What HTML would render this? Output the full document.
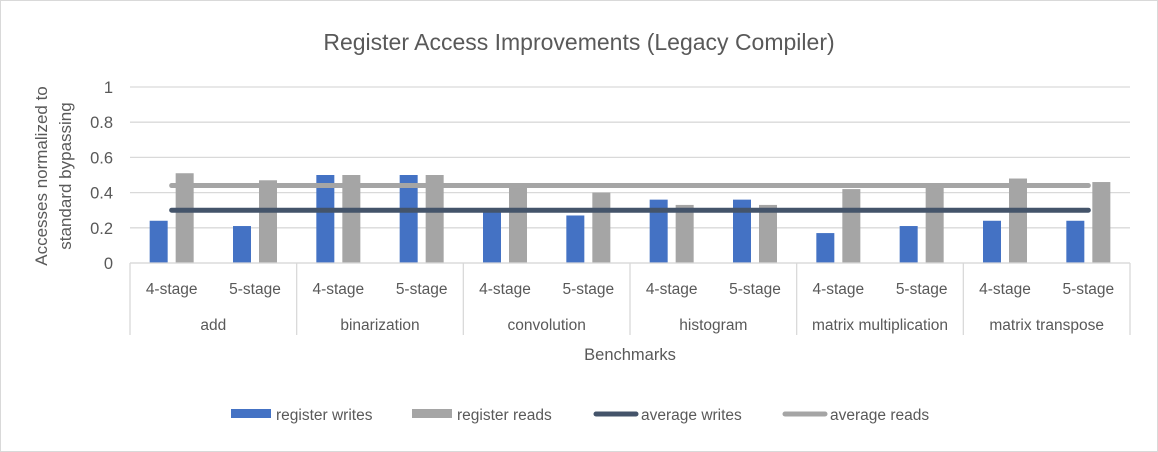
<!DOCTYPE html>
<html><head><meta charset="utf-8"><style>
body{margin:0;background:#fff}
svg{display:block;font-family:"Liberation Sans",sans-serif}
</style></head><body>
<svg id="chart" width="1158" height="452" xmlns="http://www.w3.org/2000/svg">
<rect x="0.5" y="0.5" width="1157" height="451" fill="#fff" stroke="#d9d9d9"/>
<text x="579" y="50" text-anchor="middle" font-size="23" fill="#595959">Register Access Improvements (Legacy Compiler)</text>
<g id="grid"></g><g id="bars"></g><g id="lines"></g><g id="axis"></g>
<text transform="translate(52,176) rotate(-90)" text-anchor="middle" font-size="17" fill="#595959"><tspan x="0" dy="-5">Accesses normalized to</tspan><tspan x="0" dy="24">standard bypassing</tspan></text>
<text x="630" y="360" text-anchor="middle" font-size="16.5" fill="#595959">Benchmarks</text>
<g font-size="15.5" fill="#595959">
<rect x="231" y="409" width="40" height="9" fill="#4472c4"/>
<text x="276" y="420">register writes</text>
<rect x="412" y="409" width="40" height="9" fill="#a5a5a5"/>
<text x="457" y="420">register reads</text>
<line x1="596" y1="414" x2="636" y2="414" stroke="#44546a" stroke-width="5" stroke-linecap="round"/>
<text x="641" y="420">average writes</text>
<line x1="785" y1="414" x2="825" y2="414" stroke="#a5a5a5" stroke-width="5" stroke-linecap="round"/>
<text x="830" y="420">average reads</text>
</g>
</svg>
<script>
const groups=["add","binarization","convolution","histogram","matrix multiplication","matrix transpose"];
const stages=["4-stage","5-stage"];
const writes=[0.24,0.21,0.50,0.50,0.31,0.27,0.36,0.36,0.17,0.21,0.24,0.24];
const reads=[0.51,0.47,0.50,0.50,0.44,0.40,0.33,0.33,0.42,0.45,0.48,0.46];
const avgWrites=0.30;
const avgReads=0.44;
const yTicks=[0,0.2,0.4,0.6,0.8,1];
const NS="http://www.w3.org/2000/svg";
const L=130,R=1130,Y0=263,Y1=87;
const n=writes.length,step=(R-L)/n;
const y=v=>Y0-(Y0-Y1)*v;
const xc=i=>L+step*(i+0.5);
function mk(t,a,p){const e=document.createElementNS(NS,t);for(const k in a)e.setAttribute(k,a[k]);document.getElementById(p).appendChild(e);return e;}
yTicks.forEach(t=>{
 const g=mk('line',{x1:L,x2:R,y1:y(t),y2:y(t),stroke:'#d9d9d9','stroke-width':1.3},'grid');
 
 
 const tx=mk('text',{x:113,y:y(t)+6,'text-anchor':'end','font-size':16.5,fill:'#595959'},'grid');
 tx.textContent=t;
 
 
});
for(let i=0;i<n;i++){
 const bw=mk('rect',{x:xc(i)-22,y:y(writes[i]),width:18,height:Y0-y(writes[i]),fill:'#4472c4'},'bars');
 
 
 const br=mk('rect',{x:xc(i)+4,y:y(reads[i]),width:18,height:Y0-y(reads[i]),fill:'#a5a5a5'},'bars');
 
 
 const st=mk('text',{x:xc(i),y:294,'text-anchor':'middle','font-size':15.5,fill:'#595959'},'axis');
 st.textContent=stages[i%2];
 
 
}
const lr=mk('line',{x1:xc(0),x2:xc(n-1),y1:y(avgReads),y2:y(avgReads),stroke:'#a5a5a5','stroke-width':5,'stroke-linecap':'round'},'lines');


const lw=mk('line',{x1:xc(0),x2:xc(n-1),y1:y(avgWrites),y2:y(avgWrites),stroke:'#44546a','stroke-width':5,'stroke-linecap':'round'},'lines');


const ax=mk('line',{x1:L,x2:R,y1:Y0,y2:Y0,stroke:'#d9d9d9','stroke-width':1.3},'axis');


const gw=(R-L)/groups.length;
for(let g=0;g<=groups.length;g++){
 const s=mk('line',{x1:L+g*gw,x2:L+g*gw,y1:Y0,y2:335,stroke:'#d9d9d9','stroke-width':1.3},'axis');
 
 
}
groups.forEach((name,g)=>{
 const t=mk('text',{x:L+gw*(g+0.5),y:330,'text-anchor':'middle','font-size':15.5,fill:'#595959'},'axis');
 t.textContent=name;
 
 
});
</script>
</body></html>
